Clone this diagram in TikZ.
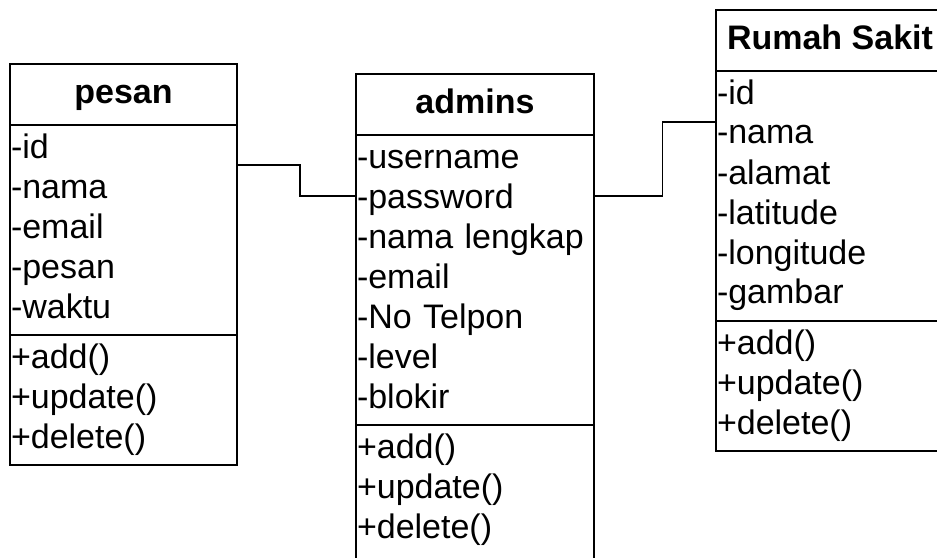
\documentclass[tikz,border=0pt]{standalone}
\usepackage{fontspec}
\setmainfont{Liberation Sans}
\usetikzlibrary{positioning,calc}

\newcommand{\umlfont}{\fontsize{17pt}{20pt}\selectfont}

\tikzset{
  classname/.style={draw, line width=1pt, outer sep=0pt, minimum height=30.5pt,
    text height=12.3pt, text depth=3.6pt, font=\umlfont\bfseries, anchor=north west},
  classpart/.style={draw, line width=1pt, outer sep=0pt, align=left,
    inner xsep=0.5pt, inner ysep=2.5pt, anchor=north},
  link/.style={line width=0.8pt}
}

\begin{document}
\begin{tikzpicture}[x=0.5pt, y=-0.5pt, font=\umlfont]
\useasboundingbox (0,0) rectangle (937,557);

% pesan
\node[classname, minimum width=113.5pt] (pesan) at (10,64)
	{pesan};
\node[classpart, text width=112.5pt, below=0pt of pesan] (pesanattr)
	{\strut-id\\-nama\\-email\\-pesan\\-waktu\strut};
\node[classpart, text width=112.5pt, below=0pt of pesanattr] (pesanop)
	{\strut+add()\\+update()\\+delete()\strut};

% admins
\node[classname, minimum width=119pt] (admins) at (356,74)
	{admins};
\node[classpart, text width=118pt, below=0pt of admins] (adminsattr)
	{\strut-username\\-password\\-nama lengkap\\-email\\-No Telpon\\-level\\-blokir\strut};
\node[classpart, text width=118pt, text depth=60pt, below=0pt of adminsattr] (adminsop)
	{\strut+add()\\+update()\\+delete()\strut};

% Rumah Sakit
\node[classname, minimum width=114pt] (rumah) at (716,10)
	{Rumah Sakit};
\node[classpart, text width=113pt, below=0pt of rumah] (rumahattr)
	{\strut-id\\-nama\\-alamat\\-latitude\\-longitude\\-gambar\strut};
\node[classpart, text width=113pt, below=0pt of rumahattr] (rumahop)
	{\strut+add()\\+update()\\+delete()\strut};

\coordinate (p1) at ([yshift=-20pt]pesanattr.north east);
\coordinate (a1) at ([yshift=-30.5pt]adminsattr.north west);
\coordinate (a2) at ([yshift=-30.5pt]adminsattr.north east);
\coordinate (r1) at ([yshift=-25.5pt]rumahattr.north west);

\draw[link] (p1) -| ($(p1)!.53!(a1)$) |- (a1);
\draw[link] (a2) -| ($(a2)!.56!(r1)$) |- (r1);
\end{tikzpicture}
\end{document}
